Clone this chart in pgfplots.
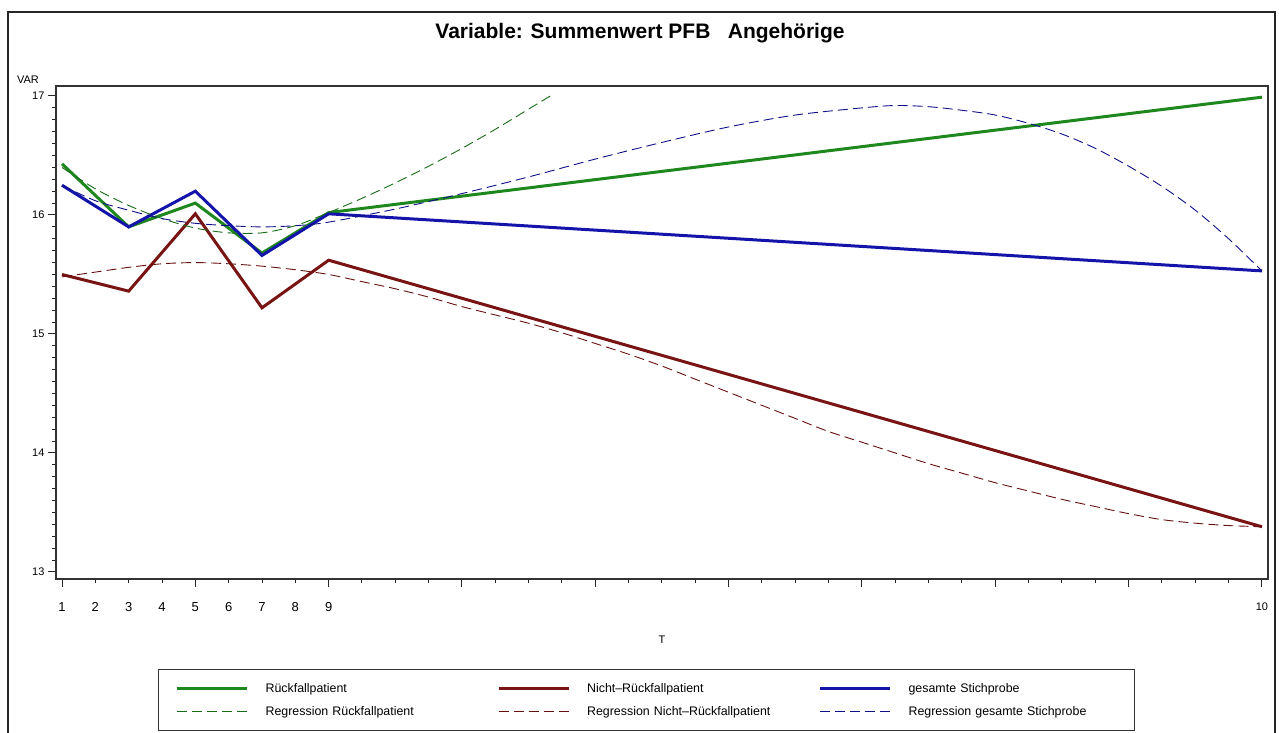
\documentclass[border=0pt]{standalone}
\usepackage{fontspec}
\setmainfont{Liberation Sans}
\usepackage{pgfplots}
\pgfplotsset{compat=1.18}
\definecolor{cgreen}{RGB}{30,135,30}
\definecolor{cred}{RGB}{120,20,20}
\definecolor{cblue}{RGB}{20,20,170}
\begin{document}
\begin{tikzpicture}[x=1pt,y=1pt]
\path[use as bounding box] (0,0) rectangle (1279,733);
\draw[line width=1.6pt, black!85] (8,-5) -- (8,721) -- (1275,721) -- (1275,-5);
\node[font=\fontsize{21}{25}\selectfont\bfseries] at (640,700) {Variable: Summenwert PFB\ \ \ Angehörige};
\begin{axis}[
  at={(56pt,154pt)}, anchor=south west,
  width=1212pt, height=493pt, scale only axis,
  xmin=0.82, xmax=37.18, ymin=12.941, ymax=17.084,
  axis line style={line width=1.3pt, black!80},
  tick style={line width=1pt, black!85},
  tick align=outside, xtick pos=bottom, ytick pos=left,
  major tick length=8pt, minor tick length=4pt,
  xtick={1,5,...,37}, xticklabels={},
  minor xtick={1,...,37},
  extra x ticks={1,2,3,4,5,6,7,8,9,37},
  extra x tick labels={1,2,3,4,5,6,7,8,9,{\fontsize{11}{13}\selectfont 10}},
  extra x tick style={major tick length=0pt, xticklabel style={font=\fontsize{13}{15}\selectfont, yshift=-20pt}},
  ytick={13,14,15,16,17}, yticklabels={13,14,15,16,17},
  minor y tick num=9,
  yticklabel style={font=\fontsize{11}{13}\selectfont},
  /pgf/number format/assume math mode=true,
  xlabel={T}, ylabel={VAR},
  every axis x label/.style={at={(axis description cs:0.5,0)}, anchor=center, yshift=-61pt, font=\fontsize{11}{13}\selectfont},
  every axis y label/.style={at={(axis description cs:0,1)}, anchor=center, xshift=-28pt, yshift=6pt, font=\fontsize{11}{13}\selectfont},
  legend columns=3,
  legend cell align=left,
  legend image code/.code={\draw[#1] (0pt,0pt) -- (70pt,0pt);},
  legend style={at={(axis description cs:0,0)}, anchor=north west, xshift=102pt, yshift=-90pt,
    draw=black!80, line width=1.2pt, inner xsep=17pt, inner ysep=13pt,
    font=\fontsize{12.4}{14}\selectfont, row sep=10pt,
    nodes={text width=209pt, align=left, inner xsep=0pt, inner ysep=1pt},
    /tikz/every odd column/.append style={column sep=17pt},
    /tikz/every even column/.append style={column sep=22.5pt}},
]
\addplot[cgreen, line width=3pt] coordinates {(1,16.43) (3,15.90) (5,16.10) (7,15.68) (9,16.02) (37,16.99)};
\addlegendentry{Rückfallpatient}
\addplot[cred, line width=3pt] coordinates {(1,15.50) (3,15.36) (5,16.01) (7,15.22) (9,15.62) (37,13.38)};
\addlegendentry{Nicht--Rückfallpatient}
\addplot[cblue, line width=3pt] coordinates {(1,16.25) (3,15.90) (5,16.20) (7,15.66) (9,16.01) (37,15.53)};
\addlegendentry{gesamte Stichprobe}
\addplot[cgreen!80!black, line width=0.9pt, dash pattern=on 10pt off 5pt, smooth] coordinates {
 (1,16.40) (2,16.22) (3,16.08) (4,15.97) (5,15.89) (6,15.85) (7,15.85) (8,15.91) (9,16.02)
 (10,16.14) (11,16.27) (12,16.41) (13,16.56) (14,16.72) (15,16.89) (15.65,17.0)};
\addlegendentry{Regression Rückfallpatient}
\addplot[cred!85!black, line width=0.9pt, dash pattern=on 10pt off 5pt, smooth] coordinates {
 (1,15.48) (2,15.52) (3,15.56) (4,15.59) (5,15.60) (6,15.59) (7,15.57) (8,15.54) (9,15.50)
 (10,15.44) (11,15.38) (12,15.31) (13,15.23) (14,15.16) (15,15.09) (16,15.01) (17,14.92)
 (18,14.83) (19,14.73) (20,14.62) (21,14.51) (22,14.40) (23,14.29) (24,14.18) (25,14.09)
 (26,14.00) (27,13.91) (28,13.83) (29,13.75) (30,13.68) (31,13.61) (32,13.55) (33,13.49)
 (34,13.44) (35,13.41) (36,13.39) (37,13.38)};
\addlegendentry{Regression Nicht--Rückfallpatient}
\addplot[cblue!80!black, line width=0.9pt, dash pattern=on 10pt off 5pt, smooth] coordinates {
 (1,16.25) (2,16.12) (3,16.04) (4,15.97) (5,15.93) (6,15.91) (7,15.90) (8,15.91) (9,15.94)
 (11,16.05) (13,16.18) (15,16.32) (17,16.47) (19,16.61) (21,16.74) (23,16.84) (25,16.90)
 (26,16.92) (27,16.91) (28,16.88) (29,16.84) (30,16.77) (31,16.68) (32,16.56) (33,16.41)
 (34,16.24) (35,16.04) (36,15.80) (37,15.53)};
\addlegendentry{Regression gesamte Stichprobe}
\end{axis}
\end{tikzpicture}
\end{document}
